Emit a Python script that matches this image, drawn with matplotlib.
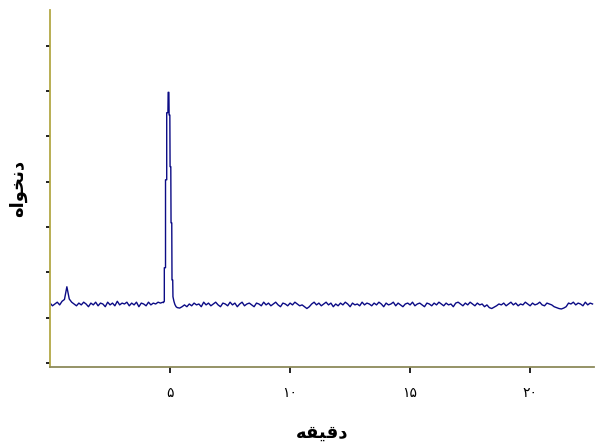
import numpy as np
import matplotlib
matplotlib.use("Agg")
import matplotlib.pyplot as plt

# detector signal, baseline before the main peak (0.0 - 4.7 min, every 0.1 min)
signal_start = [13.2, 12.6, 13.0, 13.4, 12.8, 13.6, 14.0, 16.8, 14.1, 13.4,
                13.0, 12.6, 13.2, 12.8, 13.4, 13.0, 12.4, 13.2, 12.8, 13.4,
                12.6, 13.2, 13.0, 12.4, 13.4, 12.8, 13.2, 12.6, 13.6, 12.8,
                13.2, 13.0, 13.4, 12.6, 13.2, 12.8, 13.4, 12.4, 13.2, 13.0,
                12.6, 13.4, 12.8, 13.2, 13.0, 13.4, 13.2, 13.4]

# main peak (the recorder draws it in flat steps)
peak_minutes = [4.72, 4.76, 4.76, 4.81, 4.81, 4.86, 4.86, 4.91, 4.92, 4.95, 4.96,
                4.99, 5.00, 5.03, 5.04, 5.07, 5.08, 5.11, 5.12, 5.16, 5.20, 5.25]
peak_signal = [13.3, 13.6, 21.0, 21.0, 40.4, 40.4, 55.2, 55.2, 59.7, 59.7, 54.7,
               54.7, 43.3, 43.3, 30.9, 30.9, 18.3, 18.3, 14.6, 13.6, 12.9, 12.4]

# baseline after the peak (5.3 - 22.6 min, every 0.1 min)
signal_end = [12.2, 12.1, 12.4, 12.8, 12.4, 13.0, 12.6,
              13.2, 12.8, 13.0, 12.4, 13.4, 12.8, 13.2, 12.6, 13.0, 13.4,
              12.8, 12.4, 13.2, 13.0, 12.6, 13.4, 12.8, 13.2, 12.4, 13.0,
              13.4, 12.6, 13.0, 13.2, 12.8, 12.4, 13.2, 13.0, 12.6, 13.4,
              12.8, 13.2, 12.6, 13.0, 13.4, 12.8, 12.4, 13.2, 13.0, 12.6,
              13.2, 12.8, 13.4, 13.0, 12.6, 12.8, 12.4, 12.0, 12.4, 13.0,
              13.4, 12.8, 13.2, 12.6, 13.0, 13.4, 12.8, 13.2, 12.4, 13.0,
              12.6, 13.2, 12.8, 13.4, 13.0, 12.4, 13.2, 12.8, 13.0, 12.6,
              13.4, 12.8, 13.2, 13.0, 12.6, 13.2, 12.8, 13.4, 13.0, 12.4,
              13.2, 12.8, 13.0, 13.4, 12.6, 13.2, 12.8, 12.4, 13.0, 13.2,
              12.8, 13.4, 12.6, 13.0, 13.2, 12.8, 12.4, 13.2, 13.0, 12.6,
              13.2, 12.8, 13.4, 13.0, 12.6, 13.2, 12.8, 13.0, 12.4, 13.2,
              13.4, 13.0, 12.6, 13.2, 12.8, 13.4, 13.0, 12.6, 13.2, 12.8,
              13.0, 12.4, 12.8, 12.2, 12.0, 12.3, 12.6, 13.0, 12.8, 13.2,
              12.6, 13.0, 13.4, 12.8, 13.2, 12.6, 13.0, 12.8, 13.4, 13.0,
              12.6, 13.2, 12.8, 13.0, 13.4, 12.8, 12.6, 13.2, 13.0, 12.8,
              12.4, 12.2, 12.0, 11.9, 12.1, 12.4, 13.2, 13.0, 13.4, 12.8,
              13.2, 13.0, 12.6, 13.4, 12.8, 13.2, 13.0]

x_ticks = [5, 10, 15, 20]
x_tick_labels = ["۵", "۱۰", "۱۵", "۲۰"]
y_ticks = [0, 10, 20, 30, 40, 50, 60, 70]

# Persian labels written with presentation forms (matplotlib doesn't shape Arabic script)
x_title = "\ufeea\ufed8\ufef4\ufed7\ufea9"   # دقیقه
y_title = "\ufee9\ufe8d\ufeee\ufea8\ufee7\ufea9"   # دنخواه

minutes = np.concatenate([np.arange(len(signal_start)) / 10,
                          peak_minutes,
                          5.3 + np.arange(len(signal_end)) / 10])
signal = np.concatenate([signal_start, peak_signal, signal_end])

fig = plt.figure(figsize=(5.96, 4.47), dpi=100)
ax = fig.add_axes([0.084, 0.18, 0.913, 0.798])

ax.plot(minutes, signal, color="#0b0b85", linewidth=1.0)

ax.set_xlim(0, 22.67)
ax.set_ylim(-0.8, 77.9)
ax.set_xticks(x_ticks)
ax.set_xticklabels(x_tick_labels, fontsize=10, family="DejaVu Sans")
ax.set_yticks(y_ticks)
ax.set_yticklabels([])
ax.tick_params(axis="x", length=4, width=1.4, color="#222222", pad=10)
ax.tick_params(axis="y", length=3, width=1.4, color="#222222")

for side in ["top", "right"]:
    ax.spines[side].set_visible(False)
ax.spines["left"].set_color("#b3a845")
ax.spines["bottom"].set_color("#8c8a5a")
ax.spines["left"].set_linewidth(1.3)
ax.spines["bottom"].set_linewidth(1.3)

ax.set_xlabel(x_title, fontsize=13, fontweight="bold", labelpad=17)
ax.set_ylabel(y_title, fontsize=13, fontweight="bold", labelpad=10)

fig.savefig("out.png", dpi=100)
